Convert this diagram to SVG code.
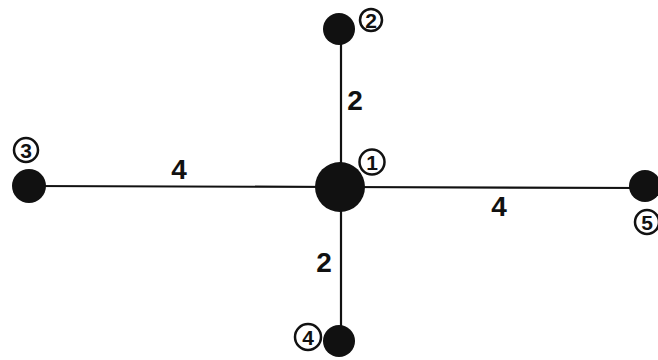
<svg xmlns="http://www.w3.org/2000/svg" width="658" height="360" viewBox="0 0 658 360">
<style>
.edge{stroke:#111;stroke-width:2.2;fill:none}
.node{fill:#111}
.tag circle{fill:#fff;stroke:#111;stroke-width:2.5}
.tag text{font-family:"Liberation Sans",Arial,sans-serif;font-weight:bold;font-size:21px;fill:#111;text-anchor:middle}
.w{font-family:"Liberation Sans",Arial,sans-serif;font-weight:bold;font-size:28px;fill:#111;text-anchor:middle}
</style>
<rect width="658" height="360" fill="#fff"/>
<g id="connectors">
<line class="edge" x1="341" y1="30" x2="341" y2="187"/>
<line class="edge" x1="341" y1="187" x2="341" y2="341"/>
<line class="edge" x1="29" y1="186" x2="340" y2="187"/>
<line class="edge" x1="340" y1="187" x2="645" y2="188"/>
<text class="w" x="355" y="110">2</text>
<text class="w" x="324" y="272">2</text>
<text class="w" x="179" y="179">4</text>
<text class="w" x="499" y="216">4</text>
</g>
<g id="n1"><circle class="node" cx="340" cy="187" r="25"/><g class="tag"><circle cx="372" cy="162" r="12.5"/><text x="372" y="169.5">1</text></g></g>
<g id="n2"><circle class="node" cx="339" cy="29" r="16"/><g class="tag"><circle cx="371" cy="20" r="11"/><text x="371" y="27.5">2</text></g></g>
<g id="n3"><circle class="node" cx="29" cy="186" r="17"/><g class="tag"><circle cx="26" cy="150" r="12"/><text x="26" y="157.5">3</text></g></g>
<g id="n4"><circle class="node" cx="339" cy="341" r="16"/><g class="tag"><circle cx="308" cy="337" r="13"/><text x="308" y="344.5">4</text></g></g>
<g id="n5"><circle class="node" cx="645" cy="186" r="16"/><g class="tag"><circle cx="647" cy="222" r="12"/><text x="647" y="229.5">5</text></g></g>
</svg>
